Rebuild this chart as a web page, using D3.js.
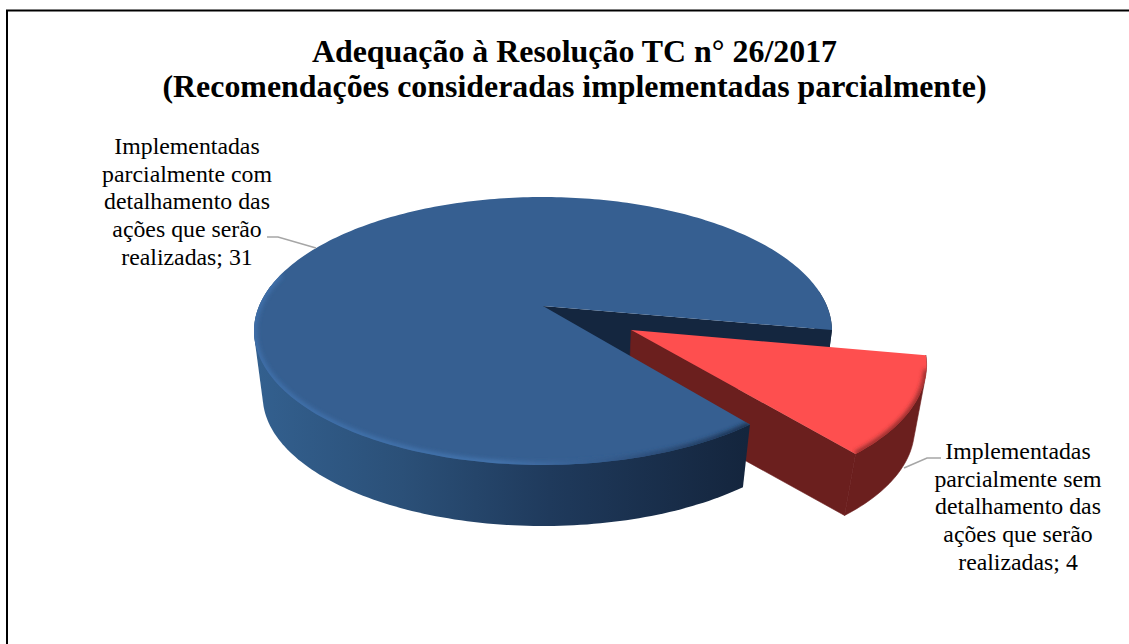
<!DOCTYPE html>
<meta charset="utf-8">
<style>
    html, body { margin: 0; background: #fff; }
    svg { display: block; }
    text { font-family: "Liberation Serif", serif; fill: #000; text-anchor: middle; }
    .title { font-size: 31.9px; font-weight: bold; }
    .label { font-size: 23.8px; }
    .leader { fill: none; stroke: #a6a6a6; stroke-width: 1.5; }
</style>
<body>
<script src="https://d3js.org/d3.v7.min.js"></script>
<script>
    var categories = ["Implementadas parcialmente com detalhamento das ações que serão realizadas",
                      "Implementadas parcialmente sem detalhamento das ações que serão realizadas"];
    var values = [31, 4];
    var titleLines = ["Adequação à Resolução TC n° 26/2017", "(Recomendações consideradas implementadas parcialmente)"];
    var labelLines = [
        ["Implementadas", "parcialmente com", "detalhamento das", "ações que serão", "realizadas; 31"],
        ["Implementadas", "parcialmente sem", "detalhamento das", "ações que serão", "realizadas; 4"]
    ];

    var width = 1129, height = 644;

    var svg = d3.select("body").append("svg")
        .attr("width", width)
        .attr("height", height);

    // chart frame: only left and top edges survive the crop of the original
    svg.append("path")
        .attr("d", "M7,644V10.5H1129")
        .attr("fill", "none")
        .attr("stroke", "#000")
        .attr("stroke-width", 2);

    svg.selectAll("text.title").data(titleLines).enter().append("text")
        .attr("class", "title")
        .attr("x", 574.5)
        .attr("y", function(d, i) { return 61.5 + i * 35.5; })
        .text(function(d) { return d; });

    // ---- perspective pie ----
    var persp = 0.1866, sink = 0.03, explode = 0.35, depth = 66.7, redRadius = 0.975;
    var x = d3.scaleLinear().domain([-1, 1]).range([543 - 283.9, 543 + 283.9]);
    var y = d3.scaleLinear().domain([-1, 1]).range([306 - 129.3, 306 + 129.3]);

    var pie = d3.pie().sort(null)
        .startAngle(141.5 * Math.PI / 180)
        .endAngle(501.5 * Math.PI / 180);
    var slices = pie(values);
    var blue = slices[0], red = slices[1];

    // pie angle (0 at top, clockwise) -> point on the unit disc, z = 0 top face, 1 bottom
    function project(a, r, off, z) {
        var u = r * Math.sin(a) + off[0],
            v = -r * Math.cos(a) + off[1],
            w = 1 - persp * v + sink * z;
        return [x(u / w), y(v / w) + depth * z];
    }
    function arcPts(a0, a1, r, off, z) {
        var n = Math.max(2, Math.ceil(Math.abs(a1 - a0) / 0.02));
        return d3.range(n + 1).map(function(i) {
            return project(a0 + (a1 - a0) * i / n, r, off, z);
        });
    }
    var line = d3.line();
    var noOff = [0, 0];
    var redMid = (red.startAngle + red.endAngle) / 2;
    var redOff = [explode * Math.sin(redMid), -explode * Math.cos(redMid)];

    function topFace(s, r, off) {
        return line([project(0, 0, off, 0)].concat(arcPts(s.startAngle, s.endAngle, r, off, 0))) + "Z";
    }
    // outer wall = hull of the top and bottom arcs, so the tangent silhouette gets filled
    function wall(a0, a1, r, off) {
        return line(d3.polygonHull(arcPts(a0, a1, r, off, 0).concat(arcPts(a0, a1, r, off, 1)))) + "Z";
    }
    function cutFace(a, r, off) {
        return line([project(0, 0, off, 0), project(a, r, off, 0), project(a, r, off, 1), project(0, 0, off, 1)]) + "Z";
    }

    var defs = svg.append("defs");
    function hGrad(id, x1, x2, stops) {
        var g = defs.append("linearGradient").attr("id", id)
            .attr("gradientUnits", "userSpaceOnUse")
            .attr("x1", x1).attr("x2", x2).attr("y1", 0).attr("y2", 0);
        stops.forEach(function(s) {
            g.append("stop").attr("offset", s[0]).attr("stop-color", s[1]);
        });
    }
    hGrad("blueSide", 254, 747, [[0, "#33608f"], [0.3, "#2b5078"], [0.6, "#1f3a5c"], [1, "#14253d"]]);
    hGrad("blueRim", 254, 747, [[0, "#3f70aa"], [0.5, "#4474ae"], [0.72, "#33598a"], [1, "#1a2f4d"]]);
    defs.append("filter").attr("id", "soft")
        .attr("x", "-5%").attr("y", "-5%").attr("width", "110%").attr("height", "110%")
        .append("feGaussianBlur").attr("stdDeviation", 2);
    defs.append("clipPath").attr("id", "blueClip").append("path").attr("d", topFace(blue, 1, noOff));
    defs.append("clipPath").attr("id", "redClip").append("path").attr("d", topFace(red, redRadius, redOff));

    var pieG = svg.append("g");

    // back to front: blue sliver and cut, exploded red slice, then blue front
    pieG.append("path").attr("d", wall(blue.endAngle - 0.3, blue.endAngle, 1, noOff)).attr("fill", "#14253d");
    pieG.append("path").attr("d", cutFace(blue.endAngle, 1, noOff)).attr("fill", "#14263f");

    // stroke hides the seam between wall and cut face
    pieG.append("path").attr("d", wall(red.startAngle, red.endAngle, redRadius, redOff))
        .attr("fill", "#6b1f1e").attr("stroke", "#6b1f1e").attr("stroke-width", 0.6);
    pieG.append("path").attr("d", cutFace(red.endAngle, redRadius, redOff))
        .attr("fill", "#6b1f1e").attr("stroke", "#6b1f1e").attr("stroke-width", 0.6);
    pieG.append("path").attr("d", topFace(red, redRadius, redOff)).attr("fill", "#fe4f4f");
    pieG.append("g").attr("clip-path", "url(#redClip)")
        .append("path")
        .attr("d", line(arcPts(red.startAngle + 0.1, red.endAngle, redRadius, redOff, 0)))
        .attr("fill", "none")
        .attr("stroke", "#8c2b2a")
        .attr("stroke-width", 5)
        .attr("filter", "url(#soft)");

    pieG.append("path").attr("d", wall(blue.startAngle, blue.startAngle + 2.4, 1, noOff)).attr("fill", "url(#blueSide)");
    pieG.append("path").attr("d", topFace(blue, 1, noOff)).attr("fill", "#365f91");
    pieG.append("g").attr("clip-path", "url(#blueClip)")
        .append("path")
        .attr("d", line(arcPts(blue.startAngle, blue.startAngle + 2.5, 1, noOff, 0)))
        .attr("fill", "none")
        .attr("stroke", "url(#blueRim)")
        .attr("stroke-width", 6)
        .attr("filter", "url(#soft)");

    // ---- labels and leaders ----
    var labelX = [187, 1018], labelY = [154, 459];
    labelLines.forEach(function(lines, k) {
        svg.selectAll("text.l" + k).data(lines).enter().append("text")
            .attr("class", "label l" + k)
            .attr("x", labelX[k])
            .attr("y", function(d, i) { return labelY[k] + i * 27.7; })
            .text(function(d) { return d; });
    });
    svg.append("path").attr("class", "leader").attr("d", line([[267, 237], [278, 237], [316, 248]]));
    svg.append("path").attr("class", "leader").attr("d", line([[941, 458], [927, 458], [904, 468]]));
</script>
</body>
